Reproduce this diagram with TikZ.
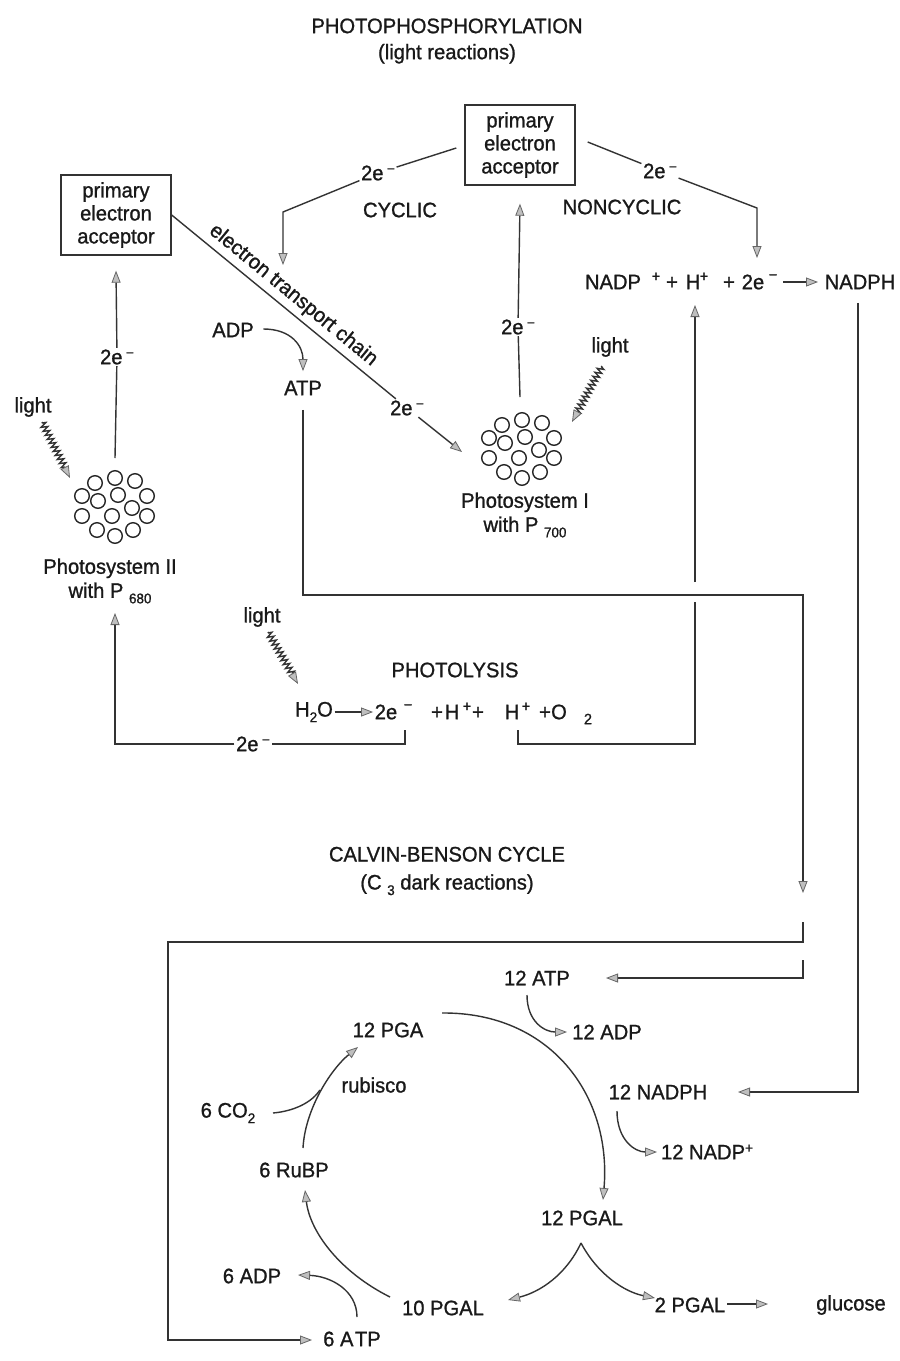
\documentclass[tikz,border=0pt]{standalone}
\usepackage{fontspec}
\setmainfont{Liberation Sans}[FakeStretch=0.96,FakeBold=1]
\usetikzlibrary{arrows.meta,decorations.pathmorphing,calc}
\newcommand\mysup[1]{\raisebox{0.6ex}{\fontsize{14}{14}\selectfont #1}}
\newcommand\mysub[1]{\raisebox{-0.5ex}{\fontsize{14}{14}\selectfont #1}}
\tikzset{
  ln/.style={line width=1.4pt, draw=black!80},
  arr/.style={ln, -{Triangle[length=12pt,width=9pt,color=black!60,fill=black!25,line width=0.8pt]}},
  wavy/.style={arr, decorate, decoration={zigzag, segment length=4.5pt, amplitude=3.2pt, pre length=1pt, post length=10pt}},
  pbox/.style={ln, draw, minimum width=110pt, minimum height=80pt, align=center, inner sep=2pt, font=\fontsize{21}{23}\selectfont},
  cl/.style={line width=1.4pt, draw=black!85},
  sp/.style={font=\fontsize{15}{15}\selectfont, inner sep=0pt},
}
\begin{document}
\begin{tikzpicture}[x=1pt,y=-1pt, every node/.style={font=\fontsize{21}{24}\selectfont, text=black!90, inner sep=1.5pt}]
\fill[white] (0,0) rectangle (900,1361);
\useasboundingbox (0,0) rectangle (900,1361);

% titles
\node[align=center, font=\fontsize{21}{26}\selectfont] (title) at (447,41) {PHOTOPHOSPHORYLATION\\(light reactions)};

% acceptor boxes
\node[pbox] (pea1) at (520,145) {primary\\electron\\acceptor};
\node[pbox] (pea2) at (116,215) {primary\\electron\\acceptor};

\node (cyc) at (400,210) {CYCLIC};
\node (noncyc) at (622,207) {NONCYCLIC};

% cyclic path
\node (e1) at (378,173) {2e\,\mysup{−}};
\coordinate (c1) at (283,212);
\coordinate (c1t) at (283,265);
\draw[ln] ($(pea1.west)+(-8,3)$) -- (e1);
\draw[arr] (e1) -- (c1) -- (c1t);

% noncyclic path
\node (e2) at (660,171) {2e\,\mysup{−}};
\coordinate (c2) at (757,208);
\coordinate (c2t) at (757,258);
\draw[ln] ($(pea1.east)+(12,-3)$) -- (e2);
\draw[arr] (e2) -- (c2) -- (c2t);

% NADP equation
\node (nadp) at (613,282) {NADP};
\node[sp] (nadpsup) at (656,277) {+};
\node (plusA) at (672,283) {+};
\node (hA) at (693,282) {H};
\node[sp] (hAsup) at (704,277) {+};
\node (plusB) at (729,283) {+};
\node (twoe) at (753,282) {2e};
\node[sp] (twoesup) at (773,277) {−};
\node (nadph) at (860,282) {NADPH};
\coordinate (na1) at (783,282);
\coordinate (na2) at (818,282);
\draw[arr] (na1) -- (na2);

% Photosystem I
\coordinate (psI) at (522,450);
\foreach \dx/\dy in {0/-30,-20/-25,20/-27,-33/-12,-17/-7,3/-13,32/-12,-33/8,-3/8,17/0,32/8,-18/22,0/28,18/22}
  \draw[cl] ($(psI)+(\dx,\dy)$) circle[radius=7.3];
\node[align=center] (psIlbl) at (525,515) {Photosystem I\\with P \mysub{700}};
\node (e3) at (518,327) {2e\,\mysup{−}};
\coordinate (psItop) at (520,397);
\draw[ln] (psItop) -- (e3);
\draw[arr] (e3) -- ($(pea1.south)+(0,18)$);
\node (l1) at (610,347) {light};
\coordinate (l1t) at (572,422);
\draw[wavy] (602,366) -- (l1t);

% Photosystem II
\coordinate (psII) at (115,508);
\foreach \dx/\dy in {0/-30,-20/-25,20/-27,-33/-12,-17/-7,3/-13,32/-12,-33/8,-3/8,17/0,32/8,-18/22,0/28,18/22}
  \draw[cl] ($(psII)+(\dx,\dy)$) circle[radius=7.3];
\node[align=center] (psIIlbl) at (110,581) {Photosystem II\\with P \mysub{680}};
\node (e4) at (117,357) {2e\,\mysup{−}};
\coordinate (psIItop) at (115,458);
\draw[ln] (psIItop) -- (e4);
\draw[arr] (e4) -- ($(pea2.south)+(0,15)$);
\node (l2) at (33,407) {light};
\coordinate (l2t) at (70,478);
\draw[wavy] (42,422) -- (l2t);

% electron transport chain
\node (e5) at (407,408) {2e\,\mysup{−}};
\coordinate (etct) at (462,452);
\draw[ln] (pea2.east) -- (e5) node[pos=0.5, sloped, above=3pt] (etc) {electron transport chain};
\draw[arr] (e5) -- (etct);

% ADP -> ATP
\node (adp) at (233,330) {ADP};
\node (atp) at (303,388) {ATP};
\draw[arr] ($(adp.east)+(8,-1)$) .. controls +(28,0) and +(0,-25) .. ($(atp.north)+(0,-8)$);
\coordinate (k1) at (303,595);
\coordinate (k2) at (803,595);
\coordinate (k3) at (803,893);
\draw[arr] ($(atp.south)+(0,13)$) -- (k1) -- (k2) -- (k3);

% photolysis
\node (photolysis) at (455,670) {PHOTOLYSIS};
\node (h2o) at (314,712) {H\mysub{2}O};
\node (pe) at (386,712) {2e};
\node[sp] (pesup) at (408,707) {−};
\node (pp1) at (437,713) {+};
\node (ph1) at (452,712) {H};
\node[sp] (ph1s) at (467,707) {+};
\node (pp2) at (478,713) {+};
\node (ph2) at (512,712) {H};
\node[sp] (ph2s) at (526,707) {+};
\node (pp3) at (545,713) {+};
\node (po) at (559,712) {O};
\node[sp] (pos) at (588,719) {2};
\draw[arr] (h2o) -- (pe);
\node (l3) at (262,617) {light};
\coordinate (l3t) at (298,684);
\draw[wavy] (268,632) -- (l3t);

\node (e6) at (253,744) {2e\,\mysup{−}};
\coordinate (b1) at (405,730);
\coordinate (b2) at (405,744);
\coordinate (b3) at (115,744);
\coordinate (b4) at (115,613);
\draw[ln] (b1) -- (b2) -- (e6.east);
\draw[arr] (e6.west) -- (b3) -- (b4);

\coordinate (r1) at (518,730);
\coordinate (r2) at (518,744);
\coordinate (r3) at (695,744);
\coordinate (r4) at (695,602);
\coordinate (r5) at (695,582);
\coordinate (r6) at (695,305);
\draw[ln] (r1) -- (r2) -- (r3) -- (r4);
\draw[arr] (r5) -- (r6);

% Calvin-Benson cycle
\node[align=center, font=\fontsize{21}{28}\selectfont] (cbc) at (447,871) {CALVIN-BENSON CYCLE\\(C \mysub{3} dark reactions)};

\node (atp12) at (537,978) {12 ATP};
\node (adp12) at (607,1032) {12 ADP};
\node (nadph12) at (658,1092) {12 NADPH};
\node (nadpp12) at (707,1152) {12 NADP\mysup{+}};
\node (pga12) at (388,1030) {12 PGA};
\node (rub) at (374,1085) {rubisco};
\node (co2) at (228,1113) {6 CO\mysub{2}};
\node (rubp) at (294,1170) {6 RuBP};
\node (pgal12) at (582,1218) {12 PGAL};
\node (pgal10) at (443,1308) {10 PGAL};
\node (pgal2) at (690,1305) {2 PGAL};
\node (gluc) at (851,1305) {glucose};
\node (adp6) at (252,1276) {6 ADP};
\node (atp6) at (352,1339) {6 A\kern1.5pt TP};

% ATP supply
\coordinate (s1) at (803,922);
\coordinate (s2) at (803,942);
\coordinate (s3) at (168,942);
\coordinate (s4) at (168,1340);
\coordinate (s5) at (312,1340);
\draw[arr] (s1) -- (s2) -- (s3) -- (s4) -- (s5);
\coordinate (t1) at (803,960);
\coordinate (t2) at (803,978);
\coordinate (t3) at (606,978);
\draw[arr] (t1) -- (t2) -- (t3);

% NADPH supply
\coordinate (n1) at (858,1092);
\coordinate (n2) at (738,1092);
\draw[arr] ($(nadph.south)+(-2,12)$) -- (n1) -- (n2);

% cycle curves
\draw[arr] (527,995) .. controls (527,1022) and (545,1032) .. (567,1032);
\draw[arr] (617,1111) .. controls (617,1140) and (635,1152) .. (657,1152);
\draw[arr] (442,1013) .. controls (550,1012) and (612,1095) .. (603,1200);
\draw[arr] (303,1148) .. controls (305,1110) and (330,1070) .. (358,1047);
\draw[ln] (273,1113) .. controls (295,1111) and (312,1102) .. (320,1090);
\draw[arr] (390,1297) .. controls (340,1272) and (310,1232) .. (305,1190);
\draw[arr] (357,1317) .. controls (357,1290) and (330,1276) .. (298,1275);
\draw[arr] (581,1243) .. controls (566,1275) and (540,1292) .. (508,1300);
\draw[arr] (581,1243) .. controls (598,1275) and (625,1292) .. (655,1298);
\coordinate (g1) at (727,1304);
\coordinate (g2) at (768,1304);
\draw[arr] (g1) -- (g2);
\end{tikzpicture}
\end{document}
